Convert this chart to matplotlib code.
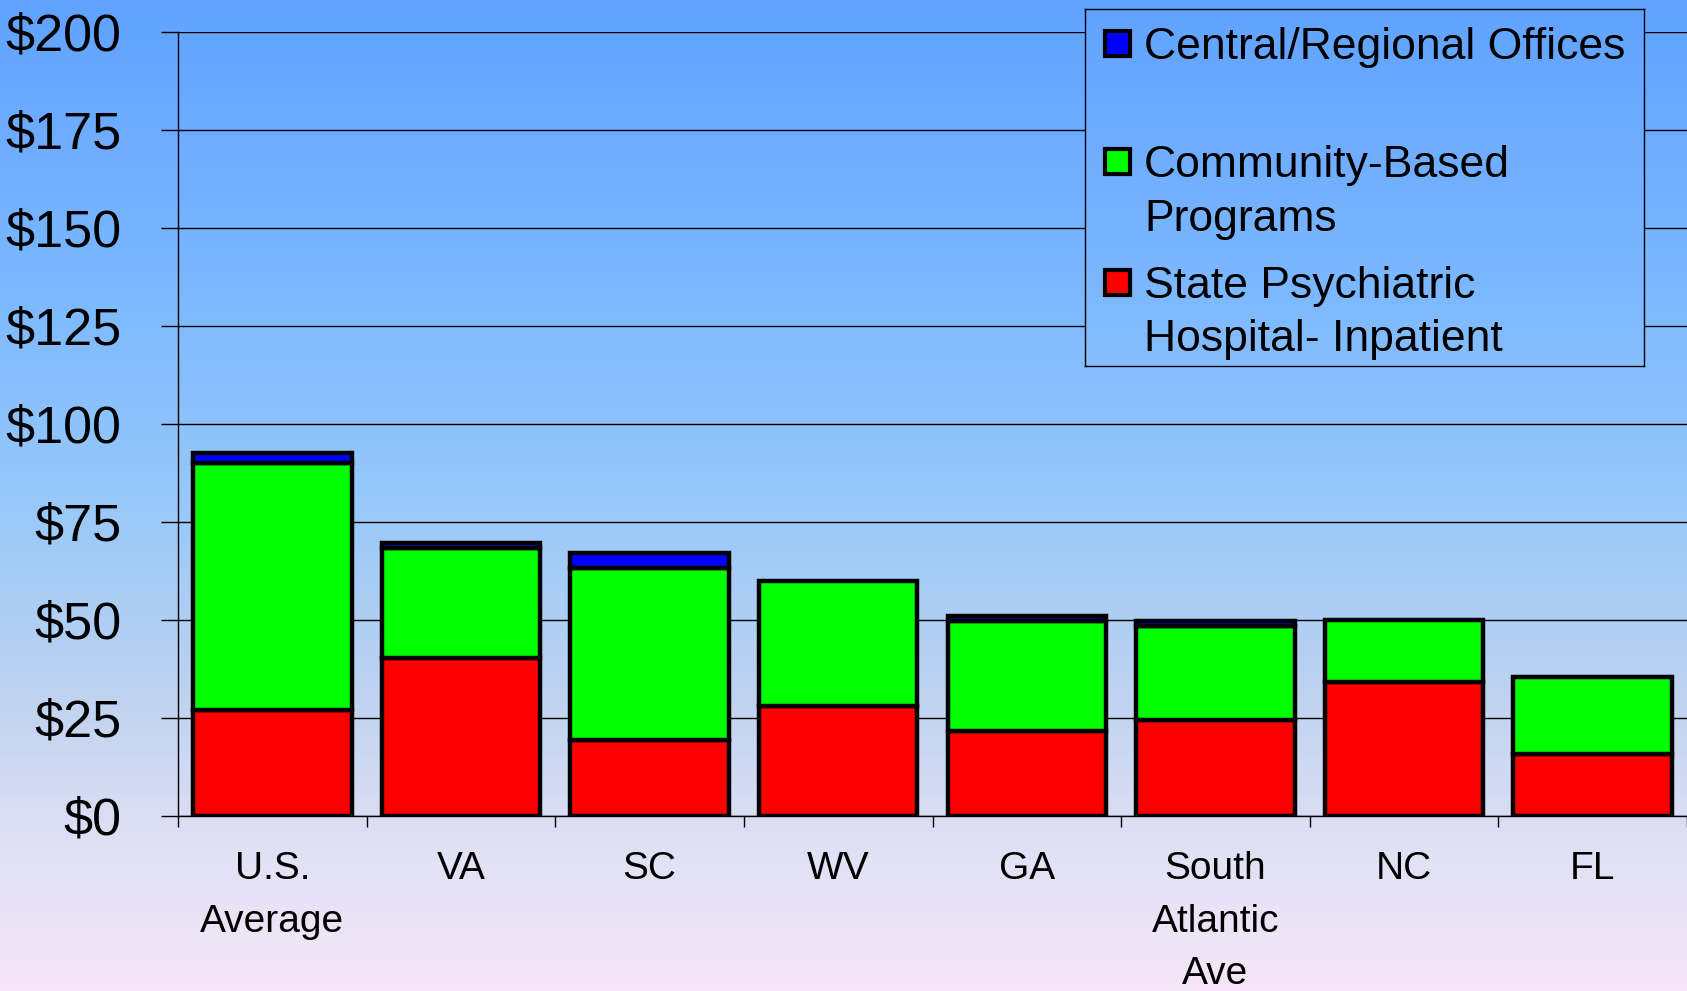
import numpy as np
import matplotlib.pyplot as plt
from matplotlib.colors import LinearSegmentedColormap
from matplotlib.patches import Rectangle

# data ($ per capita)
categories = ["U.S.\nAverage", "VA", "SC", "WV", "GA", "South\nAtlantic\nAve", "NC", "FL"]
hospital = [27.0, 40.4, 19.5, 28.0, 21.7, 24.5, 34.3, 15.9]
community = [63.1, 27.9, 43.7, 31.9, 28.0, 24.0, 15.7, 19.5]
central = [2.5, 1.3, 3.8, 0.0, 1.2, 1.2, 0.0, 0.0]
y_ticks = [0, 25, 50, 75, 100, 125, 150, 175, 200]
y_tick_labels = ["$" + str(v) for v in y_ticks]

series_lines = [["Central/Regional Offices"], ["Community-Based", "Programs"],
                ["State Psychiatric", "Hospital- Inpatient"]]
series_colors = ["#0000ff", "#00ff00", "#ff0000"]

plt.rcParams['font.family'] = ['Liberation Sans', 'DejaVu Sans']

W, H = 1687, 991
fig = plt.figure(figsize=(W / 100, H / 100), dpi=100)

# gradient background over the whole figure
stops = [(0.0, "#60a2ff"), (0.3, "#7db9ff"), (0.5, "#96c8fa"),
         (0.7, "#bed2f0"), (0.86, "#e1e1f5"), (1.0, "#f5e6f8")]
cmap = LinearSegmentedColormap.from_list("bg", stops)


def gradient_axes(rect, t0, t1, z):
    a = fig.add_axes(rect, zorder=z)
    grad = np.linspace(t0, t1, 256).reshape(-1, 1)
    a.imshow(grad, aspect="auto", cmap=cmap, vmin=0, vmax=1, extent=[0, 1, 1, 0])
    a.set_xlim(0, 1)
    a.set_ylim(1, 0)
    a.set_xticks([])
    a.set_yticks([])
    return a


bg = gradient_axes([0, 0, 1, 1], 0, 1, -10)
bg.axis("off")

ax = fig.add_axes([178 / W, 1 - 816 / H, 1 - 178 / W, (816 - 32) / H])
ax.patch.set_alpha(0)

x = np.arange(len(categories))
bw = 0.84
hosp = np.array(hospital)
comm = np.array(community)
cent = np.array(central)
kw = dict(width=bw, edgecolor="black", linewidth=3.2, zorder=3)
ax.bar(x, hosp, color=series_colors[2], **kw)
ax.bar(x, comm, bottom=hosp, color=series_colors[1], **kw)
mask = cent > 0
ax.bar(x[mask], cent[mask], bottom=(hosp + comm)[mask], color=series_colors[0], **kw)

ax.set_xlim(-0.5, len(categories) - 0.5)
ax.set_ylim(0, 200)
ax.set_yticks(y_ticks)
ax.set_yticklabels(y_tick_labels, fontsize=37.5)
ax.yaxis.grid(True, color="black", linewidth=1)
ax.set_axisbelow(True)
ax.tick_params(axis="y", length=12, width=1, pad=28.5)

ax.set_xticks(x)
ax.set_xticklabels(categories, fontsize=28, linespacing=1.6)
ax.set_xticks(np.arange(-0.5, len(categories)), minor=True)
ax.tick_params(axis="x", which="major", length=0, pad=25)
ax.tick_params(axis="x", which="minor", length=8, width=1)

for s in ["top", "right"]:
    ax.spines[s].set_visible(False)
ax.spines["left"].set_linewidth(1)
ax.spines["bottom"].set_linewidth(1)

# legend drawn by hand: box shows the background gradient, markers on first line
lx0, lx1, ly0, ly1 = 1085, 1644, 9, 366
leg = gradient_axes([lx0 / W, 1 - ly1 / H, (lx1 - lx0) / W, (ly1 - ly0) / H],
                    ly0 / H, ly1 / H, 5)
for s in leg.spines.values():
    s.set_linewidth(1)
    s.set_color("black")

line_centers = [[43], [161, 215], [282, 335]]
for lines, col, ys in zip(series_lines, series_colors, line_centers):
    yc = ys[0]
    fig.add_artist(Rectangle((1105 / W, 1 - (yc + 12.5) / H), 25 / W, 25 / H,
                             transform=fig.transFigure, facecolor=col,
                             edgecolor="black", linewidth=3, zorder=6))
    for txt, yl in zip(lines, ys):
        fig.text(1144 / W, 1 - (yl + 16) / H, txt, fontsize=32, va="baseline",
                 ha="left", zorder=6)

fig.savefig("out.png", dpi=100)
